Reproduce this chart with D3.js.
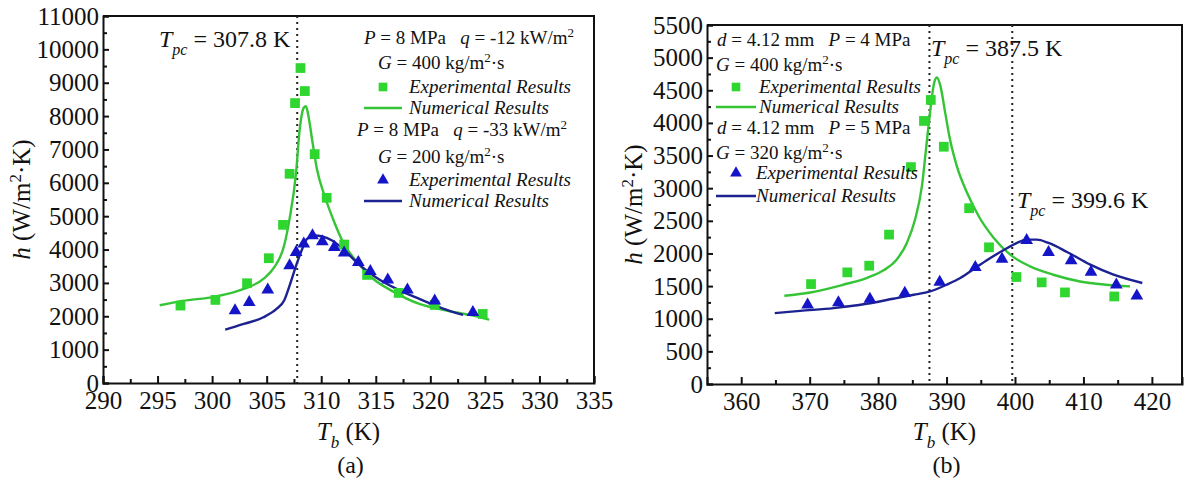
<!DOCTYPE html>
<head>
<meta charset="utf-8">
<script src="https://d3js.org/d3.v7.min.js"></script>
<style>
  body { margin: 0; background: #fff; }
  svg text { font-family: 'Liberation Serif', 'Times New Roman', serif; fill: #111; white-space: pre; }
  .tick text { fill: #111; }
  .axis path.domain { stroke: #111; stroke-width: 2; }
  .axis .tick line { stroke: #111; stroke-width: 2; }
</style>
<title>h vs Tb</title>
</head>
<body>
<script>
const width = 1186;
const height = 482;

const green = '#2fd62f';
const greenLine = '#35c435';
const blueMark = '#1414c8';
const blueLine = '#1c2290';

// ---- panel (a) data : [Tb (K), h (W/m2K)]
const aExpG = [[297.1,2320],[300.3,2490],[303.2,2990],[305.2,3740],[306.5,4740],[307.1,6270],[307.6,8390],
               [308.1,9440],[308.5,8750],[309.4,6860],[310.5,5550],[312.1,4150],[314.2,3240],[317.1,2700],
               [320.4,2340],[324.8,2070]];
const aNumG = [[295.2,2330],[297.3,2460],[300.3,2590],[302.9,2820],[304.7,3120],[305.7,3470],[306.6,4120],
               [307.1,4920],[307.7,6320],[308.0,7520],[308.4,8250],[308.6,8300],[308.8,8050],[309.2,7220],
               [309.6,6420],[310.3,5620],[311.2,4820],[312.0,4220],[313.3,3620],[314.7,3140],[316.6,2740],
               [319.0,2370],[321.5,2170],[323.6,2040],[325.4,1900]];
const aExpB = [[302.1,2170],[303.4,2420],[305.1,2790],[307.1,3520],[307.7,3920],[308.4,4170],[309.2,4420],
               [310.1,4240],[311.2,4070],[312.1,3900],[313.4,3620],[314.5,3350],[316.1,3090],[317.9,2790],
               [320.4,2460],[323.9,2120]];
const aNumB = [[301.2,1600],[302.9,1770],[304.7,1970],[305.9,2220],[306.6,2470],[307.1,2920],[307.7,3520],
               [308.2,3970],[308.7,4320],[309.4,4420],[310.1,4390],[311.0,4270],[312.0,4020],[313.4,3570],
               [315.0,3170],[316.9,2820],[319.0,2520],[321.1,2240],[323.0,2040]];
const aTpc = [307.8];
const aXTicks = [290,295,300,305,310,315,320,325,330,335];
const aXMinor = [292.5,297.5,302.5,307.5,312.5,317.5,322.5,327.5,332.5];
const aYTicks = [0,1000,2000,3000,4000,5000,6000,7000,8000,9000,10000,11000];
const aYMinor = [500,1500,2500,3500,4500,5500,6500,7500,8500,9500,10500];

// ---- panel (b) data
const bExpG = [[370.2,1531],[375.5,1710],[378.7,1812],[381.6,2289],[384.8,3323],[386.7,4030],[387.7,4352],
               [389.6,3635],[393.3,2693],[396.2,2094],[400.2,1639],[403.9,1557],[407.3,1403],[414.5,1341]];
const bNumG = [[366.3,1352],[370.1,1402],[374.9,1521],[378.3,1623],[380.8,1741],[382.7,1905],[384.2,2161],
               [385.4,2519],[386.4,3031],[387.1,3697],[387.7,4259],[388.2,4619],[388.6,4696],[389.1,4567],
               [389.8,4158],[390.5,3748],[391.5,3338],[393.0,2929],[394.7,2570],[396.9,2238],[399.3,1981],
               [402.2,1802],[405.6,1674],[409.5,1571],[413.4,1521],[416.8,1495]];
const bExpB = [[369.7,1213],[374.2,1249],[378.8,1300],[383.9,1393],[389.0,1562],[394.2,1787],[398.1,1915],
               [401.7,2201],[404.9,2017],[408.2,1889],[411.1,1716],[414.8,1521],[417.8,1352]];
const bNumB = [[364.9,1086],[368.6,1121],[373.5,1163],[378.3,1229],[382.2,1306],[385.2,1367],[387.6,1418],
               [390.0,1521],[392.0,1623],[394.2,1777],[396.4,1930],[398.3,2048],[400.3,2161],[401.7,2212],
               [403.2,2212],[404.9,2161],[407.6,2023],[411.0,1828],[414.4,1674],[418.6,1547]];
const bTpc = [387.5, 399.6];
const bXTicks = [360,370,380,390,400,410,420];
const bXMinor = [365,375,385,395,405,415];
const bYTicks = [0,500,1000,1500,2000,2500,3000,3500,4000,4500,5000,5500];
const bYMinor = [250,750,1250,1750,2250,2750,3250,3750,4250,4750,5250];

const svg = d3.select('body').append('svg')
  .attr('width', width)
  .attr('height', height);

// text with italic / subscript parts
function rich(x, y, parts, size, anchor) {
  const t = svg.append('text')
    .attr('x', x).attr('y', y)
    .style('font-size', size + 'px')
    .style('text-anchor', anchor || 'start');
  let shift = 0;
  parts.forEach(p => {
    const s = t.append('tspan').text(p[0]);
    const want = p[1] === 'sub' ? Math.round(size * 0.32) : (p[1] === 'sup' ? -Math.round(size * 0.35) : 0);
    if (want !== shift) { s.attr('dy', want - shift); shift = want; }
    if (p[1] === 'i' || p[1] === 'sub') s.style('font-style', 'italic');
    if (p[1] === 'sub' || p[1] === 'sup') s.style('font-size', Math.round(size * 0.68) + 'px');
  });
  return t;
}

function panel(o) {
  const x = d3.scaleLinear().domain(o.xDom).range(o.xRange);
  const y = d3.scaleLinear().domain(o.yDom).range(o.yRange);
  const g = svg.append('g');

  // frame top + right
  g.append('path')
    .attr('d', `M${o.xRange[0]},${o.yRange[1]}H${o.xRange[1]}V${o.yRange[0]}`)
    .attr('fill', 'none').attr('stroke', '#111').attr('stroke-width', 2);

  g.append('g').attr('class', 'axis')
    .attr('transform', `translate(0,${o.yRange[0]})`)
    .call(d3.axisBottom(x).tickValues(o.xTicks).tickSize(-7).tickPadding(8).tickFormat(d3.format('d')));
  g.append('g').attr('class', 'axis')
    .attr('transform', `translate(0,${o.yRange[0]})`)
    .call(d3.axisBottom(x).tickValues(o.xMinor).tickSize(-4).tickFormat(''))
    .select('.domain').remove();
  g.append('g').attr('class', 'axis')
    .attr('transform', `translate(${o.xRange[0]},0)`)
    .call(d3.axisLeft(y).tickValues(o.yTicks).tickSize(-6).tickPadding(4).tickFormat(d3.format('d')));
  g.append('g').attr('class', 'axis')
    .attr('transform', `translate(${o.xRange[0]},0)`)
    .call(d3.axisLeft(y).tickValues(o.yMinor).tickSize(-4).tickFormat(''))
    .select('.domain').remove();
  g.selectAll('.tick text').style('font-size', '25px').style('font-family', "'Liberation Serif', serif");

  // Tpc dotted lines
  g.selectAll('line.tpc').data(o.tpc).enter().append('line')
    .attr('class', 'tpc')
    .attr('x1', d => x(d)).attr('x2', d => x(d))
    .attr('y1', o.yRange[1]).attr('y2', o.yRange[0])
    .attr('stroke', '#222').attr('stroke-width', 2).attr('stroke-dasharray', '2,4');

  const line = d3.line().x(d => x(d[0])).y(d => y(d[1])).curve(d3.curveMonotoneX);
  g.append('path').datum(o.numG).attr('d', line)
    .attr('fill', 'none').attr('stroke', greenLine).attr('stroke-width', 2.4);
  g.append('path').datum(o.numB).attr('d', line)
    .attr('fill', 'none').attr('stroke', blueLine).attr('stroke-width', 2.4);

  g.selectAll('path.sq').data(o.expG).enter().append('path')
    .attr('class', 'sq')
    .attr('transform', d => `translate(${x(d[0])},${y(d[1])})`)
    .attr('d', d3.symbol().type(d3.symbolSquare).size(95))
    .attr('fill', green);
  g.selectAll('path.tri').data(o.expB).enter().append('path')
    .attr('class', 'tri')
    .attr('transform', d => `translate(${x(d[0])},${y(d[1])})`)
    .attr('d', d3.symbol().type(d3.symbolTriangle).size(70))
    .attr('fill', blueMark);

  // axis titles
  const cx = (o.xRange[0] + o.xRange[1]) / 2;
  const cy = (o.yRange[0] + o.yRange[1]) / 2;
  rich(cx, 440, [['T', 'i'], ['b', 'sub'], [' (K)', '']], 25, 'middle');
  rich(cx + 2, 473, [[o.tag, '']], 24, 'middle');
  rich(0, 0, [['h', 'i'], [' (W/m', ''], ['2', 'sup'], ['·K)', '']], 25, 'middle')
    .attr('transform', `translate(${o.yTitleX},${cy}) rotate(-90)`);
  return { x, y };
}

panel({
  xDom: [290, 335], xRange: [103, 594], yDom: [0, 11000], yRange: [383, 16],
  xTicks: aXTicks, xMinor: aXMinor, yTicks: aYTicks, yMinor: aYMinor,
  tpc: aTpc, expG: aExpG, numG: aNumG, expB: aExpB, numB: aNumB, tag: '(a)', yTitleX: 30
});
panel({
  xDom: [355, 424.4], xRange: [707, 1182], yDom: [0, 5500], yRange: [384, 25],
  xTicks: bXTicks, xMinor: bXMinor, yTicks: bYTicks, yMinor: bYMinor,
  tpc: bTpc, expG: bExpG, numG: bNumG, expB: bExpB, numB: bNumB, tag: '(b)', yTitleX: 642
});

// ---- annotations (a)
const fs = 19;
rich(159, 47, [['T', 'i'], ['pc', 'sub'], [' = 307.8 K', '']], 24);
rich(364, 44, [['P', 'i'], [' = 8 MPa   ', ''], ['q', 'i'], [' = -12 kW/m', ''], ['2', 'sup']], fs);
rich(378, 69, [['G', 'i'], [' = 400 kg/m', ''], ['2', 'sup'], ['·s', '']], fs);
rich(409, 93, [['Experimental Results', 'i']], fs);
rich(409, 114, [['Numerical Results', 'i']], fs);
rich(357, 136, [['P', 'i'], [' = 8 MPa   ', ''], ['q', 'i'], [' = -33 kW/m', ''], ['2', 'sup']], fs);
rich(378, 163, [['G', 'i'], [' = 200 kg/m', ''], ['2', 'sup'], ['·s', '']], fs);
rich(409, 186, [['Experimental Results', 'i']], fs);
rich(409, 207, [['Numerical Results', 'i']], fs);

// ---- annotations (b)
rich(931, 56, [['T', 'i'], ['pc', 'sub'], [' = 387.5 K', '']], 24);
rich(1017, 208, [['T', 'i'], ['pc', 'sub'], [' = 399.6 K', '']], 24);
rich(717, 46, [['d', 'i'], [' = 4.12 mm   ', ''], ['P', 'i'], [' = 4 MPa', '']], fs);
rich(716, 71, [['G', 'i'], [' = 400 kg/m', ''], ['2', 'sup'], ['·s', '']], fs);
rich(759, 93, [['Experimental Results', 'i']], fs);
rich(759, 113, [['Numerical Results', 'i']], fs);
rich(717, 134, [['d', 'i'], [' = 4.12 mm   ', ''], ['P', 'i'], [' = 5 MPa', '']], fs);
rich(716, 159, [['G', 'i'], [' = 320 kg/m', ''], ['2', 'sup'], ['·s', '']], fs);
rich(756, 179, [['Experimental Results', 'i']], fs);
rich(756, 202, [['Numerical Results', 'i']], fs);

// legend keys
const keys = [
  { x: 383, y: 87, kind: 'sq' }, { x: 383, y: 180, kind: 'tri' },
  { x: 736, y: 87, kind: 'sq' }, { x: 736, y: 173, kind: 'tri' }
];
svg.selectAll('path.key').data(keys).enter().append('path')
  .attr('class', 'key')
  .attr('transform', d => `translate(${d.x},${d.y})`)
  .attr('d', d => d3.symbol().type(d.kind === 'sq' ? d3.symbolSquare : d3.symbolTriangle).size(d.kind === 'sq' ? 75 : 60)())
  .attr('fill', d => d.kind === 'sq' ? green : blueMark);
const keyLines = [
  { x1: 364, x2: 402, y: 108, c: greenLine }, { x1: 364, x2: 402, y: 201, c: blueLine },
  { x1: 716, x2: 756, y: 107, c: greenLine }, { x1: 716, x2: 756, y: 196, c: blueLine }
];
svg.selectAll('line.key').data(keyLines).enter().append('line')
  .attr('x1', d => d.x1).attr('x2', d => d.x2).attr('y1', d => d.y).attr('y2', d => d.y)
  .attr('stroke', d => d.c).attr('stroke-width', 2.4);
</script>
</body>
